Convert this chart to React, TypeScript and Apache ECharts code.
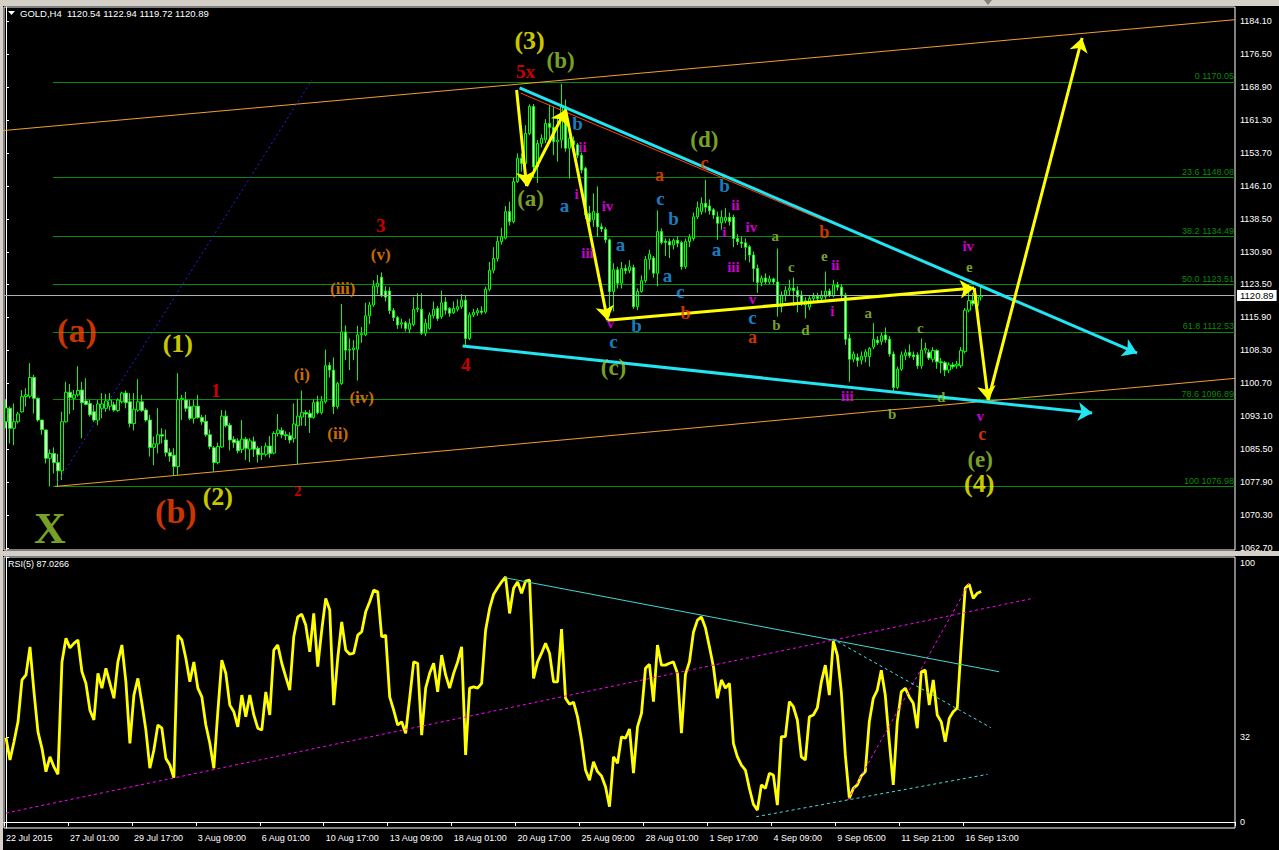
import React, { useEffect, useRef } from "react";
import * as echarts from "echarts";

// ---------- data ----------
const SYMBOL = "GOLD,H4";
const LAST_OHLC = [1120.54, 1122.94, 1119.72, 1120.89];
const RSI_PERIOD = 5;
const RSI_LAST = 87.0266;

const TIME_LABELS = ["22 Jul 2015", "27 Jul 01:00", "29 Jul 17:00", "3 Aug 09:00", "6 Aug 01:00", "10 Aug 17:00", "13 Aug 09:00", "18 Aug 01:00", "20 Aug 17:00", "25 Aug 09:00", "28 Aug 01:00", "1 Sep 17:00", "4 Sep 09:00", "9 Sep 05:00", "11 Sep 21:00", "16 Sep 13:00"];
const BARS_PER_LABEL = 16;

const PRICE_TICKS = [1062.7, 1070.3, 1077.9, 1085.5, 1093.1, 1100.7, 1108.3, 1115.9, 1123.5, 1130.9, 1138.5, 1146.1, 1153.7, 1161.3, 1168.9, 1176.5, 1184.1];
const RSI_TICKS = [0, 32, 100];

const OPEN = [1091.8,1094.9,1090.3,1091.8,1094.1,1097.6,1097.7,1102.0,1097.2,1092.2,
1089.9,1083.4,1084.5,1082.4,1080.5,1091.8,1098.6,1097.2,1098.0,1099.1,
1096.6,1096.0,1094.1,1092.2,1094.9,1094.9,1095.4,1095.7,1094.4,1096.4,
1098.4,1096.4,1091.4,1094.5,1096.4,1094.5,1092.2,1085.9,1086.7,1088.8,
1087.6,1084.7,1084.1,1081.5,1096.9,1096.8,1095.3,1092.6,1095.4,1092.8,
1091.9,1088.8,1085.8,1082.4,1086.0,1093.1,1091.0,1087.7,1087.4,1085.4,
1087.8,1085.5,1087.2,1085.7,1084.3,1084.3,1086.2,1084.6,1089.1,1089.8,
1088.8,1088.6,1088.0,1090.9,1092.9,1093.9,1093.7,1092.8,1096.4,1093.9,
1096.4,1104.8,1103.7,1095.3,1100.6,1112.5,1108.3,1108.4,1108.5,1111.8,
1111.8,1116.2,1118.7,1122.9,1125.1,1121.9,1121.9,1117.4,1115.8,1114.3,
1114.6,1113.1,1114.2,1117.7,1117.7,1112.2,1113.3,1116.2,1117.9,1116.0,
1119.4,1117.9,1116.9,1117.7,1118.3,1119.8,1111.0,1116.4,1116.9,1117.3,
1117.1,1122.3,1126.7,1129.4,1133.3,1134.1,1140.2,1137.9,1147.1,1152.5,
1151.3,1158.2,1164.4,1150.5,1155.9,1156.7,1160.5,1159.6,1156.3,1156.7,
1164.4,1154.8,1156.5,1155.6,1153.2,1150.2,1139.8,1138.3,1139.8,1136.7,
1136.1,1133.7,1121.8,1126.8,1123.7,1127.1,1126.6,1127.3,1118.3,1121.8,
1124.3,1129.2,1129.5,1126.0,1135.6,1133.4,1133.3,1132.5,1133.6,1133.1,
1127.5,1133.3,1134.0,1139.0,1140.2,1142.1,1141.5,1140.6,1139.0,1137.6,
1138.1,1138.9,1138.9,1134.0,1133.2,1133.0,1132.1,1130.2,1127.1,1123.9,
1124.9,1124.0,1124.7,1124.0,1118.3,1121.0,1122.1,1122.6,1122.0,1121.0,
1118.7,1118.2,1120.2,1120.7,1120.2,1120.6,1121.9,1120.8,1123.3,1122.8,
1121.0,1111.0,1106.2,1106.6,1106.0,1106.8,1106.8,1109.0,1110.6,1110.3,
1111.8,1110.8,1107.4,1099.7,1103.9,1107.0,1107.8,1107.2,1107.2,1104.7,
1108.3,1107.8,1106.2,1108.2,1105.6,1105.4,1103.7,1104.9,1104.7,1104.7,
1108.0,1117.5,1119.7,1118.5,1120.54];

const HIGH = [1097.0,1095.3,1096.0,1094.1,1099.1,1099.5,1105.3,1102.6,1097.4,1092.2,
1090.0,1085.4,1085.9,1084.4,1094.1,1101.0,1100.5,1099.1,1104.6,1101.0,
1101.8,1096.8,1095.7,1096.8,1098.4,1098.2,1098.4,1096.4,1097.2,1098.7,
1099.0,1098.4,1098.4,1101.6,1098.0,1094.9,1093.4,1088.4,1094.9,1090.3,
1090.0,1085.7,1085.7,1103.0,1098.0,1098.7,1096.8,1096.8,1098.0,1093.4,
1093.4,1090.0,1086.2,1087.0,1094.5,1094.4,1091.5,1088.5,1088.0,1092.2,
1088.3,1088.0,1088.4,1086.2,1086.2,1087.0,1088.5,1089.6,1093.6,1090.5,
1089.6,1089.4,1096.0,1097.1,1099.0,1094.5,1094.5,1097.0,1097.8,1097.7,
1108.4,1105.5,1106.6,1101.0,1118.9,1114.0,1111.0,1110.6,1113.9,1113.6,
1119.2,1119.4,1124.4,1125.6,1126.2,1123.0,1122.8,1118.0,1116.2,1115.5,
1115.0,1115.5,1120.5,1121.4,1121.4,1115.5,1117.0,1119.5,1118.5,1122.0,
1120.5,1118.2,1119.5,1120.0,1121.2,1121.0,1117.0,1117.8,1118.0,1118.4,
1122.9,1128.6,1132.0,1134.5,1136.5,1141.5,1142.5,1148.0,1153.6,1153.6,
1160.1,1164.9,1165.0,1156.7,1158.0,1161.5,1164.8,1164.4,1162.0,1169.6,
1166.0,1157.5,1157.5,1156.0,1153.8,1150.5,1141.5,1144.4,1146.0,1137.5,
1136.6,1134.0,1128.3,1127.5,1128.6,1128.0,1129.0,1128.0,1122.5,1125.5,
1130.0,1131.4,1130.0,1140.5,1136.3,1134.0,1134.0,1134.0,1134.5,1133.5,
1134.0,1135.0,1140.0,1142.5,1143.5,1147.5,1143.0,1141.0,1140.2,1140.5,
1141.0,1140.0,1139.5,1135.0,1134.5,1134.0,1132.5,1131.0,1128.0,1125.5,
1126.0,1125.5,1125.0,1131.7,1121.8,1123.0,1124.5,1125.0,1123.0,1122.0,
1120.5,1121.0,1121.5,1121.5,1122.0,1126.4,1122.5,1124.5,1124.0,1123.5,
1121.5,1112.0,1108.0,1107.5,1108.0,1108.5,1109.0,1114.5,1111.5,1112.3,
1113.5,1111.5,1108.0,1104.5,1108.0,1108.5,1109.6,1108.0,1107.8,1111.0,
1110.0,1108.5,1109.0,1108.5,1106.5,1105.8,1105.5,1105.5,1105.8,1109.0,
1118.0,1123.5,1121.5,1121.2,1122.94];

const LOW = [1090.3,1086.8,1086.4,1091.4,1093.9,1095.3,1097.2,1093.7,1091.8,1088.8,
1082.2,1076.9,1079.9,1076.9,1078.4,1091.6,1093.6,1094.5,1097.6,1088.0,
1095.6,1093.0,1091.8,1091.0,1092.6,1094.1,1094.4,1094.1,1094.1,1096.0,
1094.9,1090.5,1089.8,1094.1,1094.1,1091.8,1083.8,1081.8,1084.5,1086.8,
1083.8,1082.6,1079.5,1079.5,1092.2,1094.1,1092.2,1091.4,1092.5,1091.1,
1088.4,1085.5,1080.3,1082.0,1085.8,1090.5,1085.2,1085.8,1084.5,1084.6,
1083.0,1082.5,1083.7,1082.4,1083.0,1083.8,1083.5,1084.3,1088.4,1088.0,
1087.6,1086.8,1087.0,1082.1,1090.9,1090.8,1089.2,1092.5,1093.5,1093.5,
1096.0,1102.0,1093.6,1094.8,1100.3,1106.0,1103.7,1106.0,1101.3,1110.0,
1111.5,1114.3,1118.3,1121.2,1120.5,1119.5,1116.6,1115.0,1113.2,1113.3,
1112.6,1112.2,1113.8,1117.0,1111.8,1111.5,1113.0,1115.6,1115.0,1115.5,
1116.5,1116.0,1116.6,1117.2,1117.8,1109.5,1110.6,1115.9,1116.2,1116.5,
1116.7,1121.9,1126.0,1128.7,1132.6,1133.8,1137.0,1137.5,1146.8,1149.4,
1150.9,1157.8,1148.0,1146.8,1155.0,1156.0,1156.3,1153.2,1151.7,1154.8,
1154.0,1147.8,1153.2,1152.5,1149.0,1138.5,1135.6,1136.7,1134.4,1135.5,
1133.0,1116.0,1117.2,1122.5,1122.5,1125.8,1126.0,1117.8,1117.5,1121.5,
1123.8,1126.8,1125.0,1123.0,1132.6,1130.0,1129.5,1131.5,1132.0,1126.8,
1127.0,1132.0,1133.5,1138.5,1139.5,1140.0,1139.5,1138.5,1133.7,1136.0,
1137.5,1137.0,1132.0,1132.5,1131.8,1129.0,1128.5,1124.0,1121.5,1123.0,
1123.5,1123.5,1123.5,1116.0,1117.0,1119.5,1121.0,1118.5,1117.0,1118.5,
1115.6,1117.5,1119.5,1119.5,1119.5,1120.0,1120.5,1120.5,1122.0,1120.0,
1109.5,1101.0,1105.5,1104.5,1105.0,1105.5,1104.5,1108.5,1109.5,1109.5,
1110.0,1106.8,1098.6,1099.3,1103.5,1106.0,1106.5,1106.0,1104.0,1104.0,
1107.5,1106.0,1105.5,1104.0,1103.0,1102.3,1103.0,1104.0,1104.0,1104.2,
1107.5,1117.0,1118.5,1118.0,1119.72];

const CLOSE = [1095.0,1090.3,1091.8,1093.6,1097.6,1098.0,1102.0,1097.2,1092.2,1090.0,
1083.4,1084.5,1082.4,1080.5,1091.8,1098.6,1097.4,1098.0,1099.0,1096.2,
1095.8,1093.4,1092.2,1095.9,1095.9,1096.6,1096.8,1094.5,1096.8,1098.4,
1096.2,1091.4,1094.7,1096.4,1094.4,1092.2,1085.9,1086.7,1088.8,1088.5,
1084.7,1083.9,1081.5,1096.9,1097.2,1094.9,1092.6,1095.4,1092.8,1091.8,
1088.8,1086.1,1082.4,1086.1,1093.1,1090.9,1087.6,1087.0,1085.1,1087.8,
1085.7,1087.4,1085.5,1084.2,1084.5,1086.2,1084.5,1089.1,1089.9,1088.8,
1088.6,1087.6,1091.3,1093.1,1093.9,1093.6,1092.8,1096.2,1093.9,1096.6,
1104.7,1103.7,1095.3,1100.6,1112.5,1108.3,1108.5,1108.8,1111.8,1112.1,
1116.2,1118.7,1123.1,1123.7,1120.8,1120.5,1117.4,1115.8,1114.1,1114.6,
1113.3,1114.4,1117.7,1118.0,1112.2,1114.5,1116.4,1117.7,1115.6,1119.2,
1117.5,1116.8,1117.9,1118.3,1119.8,1111.0,1116.4,1117.0,1117.4,1117.0,
1122.3,1126.7,1129.4,1133.3,1134.4,1140.2,1137.9,1147.1,1152.5,1151.3,
1158.2,1164.4,1150.5,1155.9,1157.1,1160.5,1159.6,1156.3,1156.7,1164.4,
1154.8,1157.1,1155.6,1153.2,1149.8,1139.4,1137.9,1140.2,1136.7,1136.2,
1133.7,1121.8,1126.8,1123.7,1127.1,1126.6,1127.5,1118.3,1121.8,1124.3,
1129.2,1130.4,1126.0,1135.6,1133.1,1133.1,1132.5,1133.6,1132.9,1127.5,
1133.3,1134.3,1139.0,1141.1,1142.1,1141.2,1140.4,1139.4,1137.5,1138.9,
1138.9,1137.9,1134.0,1133.3,1132.9,1132.0,1130.2,1127.1,1123.9,1124.9,
1124.0,1124.7,1124.0,1118.3,1121.0,1122.1,1122.6,1122.0,1120.6,1119.2,
1119.7,1120.2,1120.7,1120.2,1121.0,1121.9,1121.0,1123.3,1122.8,1121.0,
1110.8,1106.2,1107.4,1105.9,1106.9,1107.9,1108.7,1110.8,1110.0,1111.6,
1110.7,1107.4,1099.7,1103.9,1107.2,1107.7,1107.0,1106.8,1104.7,1108.3,
1108.7,1106.5,1108.2,1105.6,1105.4,1103.7,1104.9,1104.5,1105.1,1108.2,
1117.5,1119.7,1119.0,1120.5,1120.89];

const RSI = [31.8,23.4,30.3,37.8,53.6,55.5,66.1,49.1,34.0,27.8,
19.0,24.6,20.8,18.0,60.4,69.3,65.7,67.4,68.7,56.7,
52.3,42.2,38.5,56.1,50.5,58.0,52.3,46.7,60.4,66.8,
52.9,29.7,47.9,54.2,44.8,34.7,20.3,27.2,36.6,35.4,
24.0,21.5,16.7,70.5,68.7,61.8,52.9,60.4,50.5,47.2,
36.6,29.7,20.3,41.6,61.1,56.1,44.1,41.6,35.9,47.9,
39.7,47.9,40.4,35.4,34.7,49.1,40.4,64.9,66.8,59.9,
54.8,49.8,69.9,77.4,78.4,74.3,64.2,78.7,58.6,72.4,
84.4,80.0,44.1,61.8,75.5,64.9,63.3,63.7,70.5,71.8,
79.3,83.1,87.5,86.9,69.9,70.5,47.2,42.2,36.6,37.8,
33.5,46.7,60.4,59.9,32.8,50.5,56.1,59.9,49.1,63.0,
55.5,50.5,56.1,60.4,66.1,25.3,50.5,51.0,50.5,52.3,
72.4,80.6,85.9,88.4,90.6,92.5,78.7,88.2,90.6,86.3,
90.9,91.3,54.2,60.4,63.7,67.4,63.7,52.9,52.9,72.8,
46.7,44.4,45.2,39.7,30.9,19.6,15.8,22.7,19.0,17.4,
13.3,5.8,24.6,22.2,32.2,31.6,35.1,18.4,35.9,41.0,
58.0,59.5,45.4,66.8,59.2,59.2,59.9,60.4,56.1,33.5,
55.7,60.4,71.6,76.2,77.4,73.3,66.1,58.6,46.7,53.6,
50.5,52.3,29.7,24.6,21.5,19.6,12.7,6.7,4.5,14.0,
12.7,18.4,17.7,6.4,32.2,32.2,45.4,43.5,38.5,24.6,
23.4,39.7,40.4,43.1,52.9,59.2,47.9,68.3,63.0,49.1,
25.3,9.0,12.7,14.0,17.4,19.0,37.8,46.7,49.8,57.3,
47.9,30.3,14.0,37.8,49.1,50.5,47.2,44.8,35.4,56.7,
57.3,44.1,53.6,40.4,37.8,30.3,39.1,41.6,43.0,66.8,
88.2,89.7,84.4,86.3,87.0];

// Fibonacci retracement (label, level), anchored from the low bar
const FIB_LEVELS = [["0", 1170.05], ["23.6", 1148.08], ["38.2", 1134.49], ["50.0", 1123.51], ["61.8", 1112.53], ["78.6", 1096.89], ["100", 1076.98]];
const FIB_FROM_BAR = 11.75;

// trend lines: [bar1, value1, bar2, value2]
const ORANGE_CHANNEL = [[-1.5, 1158.8, 307.5, 1184.4], [12.25, 1076.9, 307.5, 1101.8]];
const BLUE_DOTTED = [12.25, 1076.9, 76.5, 1170.5];
const RED_THIN = [128.75, 1167.5, 205, 1138.0];
const CYAN_ARROWS = [[128.5, 1168.7, 283, 1107.6], [114.25, 1109.25, 271.75, 1093.8]];
const YELLOW_PATH = [[127.75, 1168.2], [130.25, 1146.1], [140, 1163.6], [150.5, 1115.2], [242.25, 1122.6], [245.75, 1096.8], [269.25, 1180.2]];

const RSI_MAGENTA = [[0, 3.4, 257.25, 84.5], [210.6, 8.3, 241, 90.1]];
const RSI_CYAN_SOLID = [124.75, 92.2, 248.5, 56.7];
const RSI_CYAN_DASHED = [[206.8, 69.1, 246.4, 35.6], [187.7, 2.0, 245.6, 18.0]];

// wave labels: [text, bar, price, style]
const WAVE_LABELS = [
  ["(3)", 131, 1179.7, "Y"], ["(1)", 43, 1109.9, "Y"], ["(2)", 53, 1074.5, "Y"], ["(4)", 243.5, 1077.5, "Y"],
  ["(a)", 17.75, 1112.9, "OB"], ["(b)", 42.5, 1071.2, "OB"],
  ["X", 11, 1067.3, "X"],
  ["(b)", 138.75, 1174.9, "G"], ["(a)", 131.25, 1143.3, "G"], ["(d)", 174.75, 1156.9, "G"], ["(c)", 152, 1104.4, "G"], ["(e)", 243.75, 1083.2, "G"],
  ["5x", 130, 1172.4, "R"], ["3", 93.75, 1136.9, "R"], ["1", 52.5, 1099.1, "R"], ["2", 73, 1075.9, "r"], ["4", 115, 1105.1, "R"],
  ["(v)", 93.75, 1130.4, "O"], ["(iii)", 84.25, 1122.6, "O"], ["(i)", 74, 1102.6, "O"], ["(iv)", 89, 1097.5, "O"], ["(ii)", 83, 1089.2, "O"],
  ["b", 143, 1160.4, "B"], ["a", 139.75, 1141.5, "B"], ["a", 153.75, 1132.7, "B"], ["c", 163.75, 1143.3, "B"], ["b", 167, 1138.5, "B"],
  ["a", 165.5, 1125.6, "B"], ["c", 168.75, 1121.7, "B"], ["c", 152, 1110.4, "B"], ["b", 157.75, 1113.9, "B"], ["b", 179.75, 1146.1, "B"],
  ["a", 177.75, 1131.4, "B"], ["c", 186.75, 1115.9, "B"],
  ["a", 163.5, 1148.6, "o"], ["c", 174.75, 1151.4, "o"], ["b", 170, 1116.8, "o"], ["a", 186.75, 1111.3, "o"], ["b", 204.75, 1135.5, "o"], ["c", 244.25, 1089.0, "o"],
  ["ii", 144.25, 1155.1, "M"], ["i", 142.75, 1144.3, "M"], ["iv", 150.5, 1141.5, "M"], ["iii", 145.5, 1130.7, "M"], ["v", 151.25, 1114.5, "M"],
  ["i", 179.75, 1135.5, "M"], ["ii", 182.5, 1141.7, "M"], ["iv", 186.5, 1136.7, "M"], ["iii", 182, 1127.4, "M"], ["v", 186.75, 1120.1, "M"],
  ["i", 206.75, 1117.3, "M"], ["ii", 207.5, 1127.9, "M"], ["iii", 210.5, 1097.7, "M"], ["iv", 240.75, 1132.3, "M"], ["v", 243.75, 1093.1, "M"],
  ["a", 192.5, 1134.6, "g"], ["c", 196.5, 1127.4, "g"], ["e", 204.75, 1130.0, "g"], ["b", 192.75, 1114.1, "g"], ["d", 200, 1112.9, "g"],
  ["a", 215.75, 1116.8, "g"], ["c", 228.75, 1113.4, "g"], ["b", 221.75, 1093.6, "g"], ["d", 234, 1097.5, "g"], ["e", 241, 1127.4, "g"],
];

// ---------- layout / style ----------
const SLOTS = 308;
const PRICE_MIN = 1062.27;
const PRICE_MAX = 1187.32;
const RSI_MIN = -2.26;
const RSI_MAX = 100;
const AXIS_FONT = "'Liberation Sans', Arial, sans-serif";
const WAVE_FONT = "'Liberation Serif', 'Times New Roman', serif";

const LABEL_STYLES: Record<string, { color: string; size: number }> = {
  Y: { color: "#ffff00", size: 26 },
  OB: { color: "#ff4500", size: 34 },
  X: { color: "#9acd32", size: 44 },
  G: { color: "#9acd32", size: 23 },
  g: { color: "#9acd32", size: 15 },
  R: { color: "#ff0000", size: 19 },
  r: { color: "#ff0000", size: 15 },
  O: { color: "#ff8c00", size: 17 },
  B: { color: "#1ea0f0", size: 19 },
  o: { color: "#ff4500", size: 18 },
  M: { color: "#ff00ff", size: 15 },
};

const seg = (s: number[]) => ({ coords: [[s[0], s[1]], [s[2], s[3]]] });

export default function App() {
  const ref = useRef<HTMLDivElement>(null);

  useEffect(() => {
    if (!ref.current) return;
    const chart = echarts.init(ref.current, null, { renderer: "svg" });
    const cats = Array.from({ length: SLOTS }, (_, i) => String(i));
    const showTick = (i: number) => i % BARS_PER_LABEL === 0 && i / BARS_PER_LABEL < TIME_LABELS.length;

    const yellowSegs = YELLOW_PATH.slice(1).map((p, i) => ({ coords: [YELLOW_PATH[i], p] }));

    const option: any = {
      animation: false,
      backgroundColor: "#000",
      grid: [
        { left: 4, right: 44, top: 7, height: 543, show: true, borderColor: "#ffffff", borderWidth: 1, backgroundColor: "#000" },
        { left: 4, right: 44, top: 557, height: 271, show: true, borderColor: "#ffffff", borderWidth: 1, backgroundColor: "#000" },
      ],
      xAxis: [
        { type: "category", gridIndex: 0, data: cats, boundaryGap: true, show: false },
        { type: "value", gridIndex: 0, min: -0.5, max: SLOTS - 0.5, show: false },
        {
          type: "category", gridIndex: 1, data: cats, boundaryGap: true,
          axisLine: { show: true, lineStyle: { color: "#ffffff", width: 1 } },
          axisTick: { show: true, interval: (i: number) => showTick(i), length: 4, lineStyle: { color: "#ffffff" } },
          axisLabel: {
            show: true, interval: (i: number) => showTick(i), align: "left", margin: 5,
            formatter: (_v: string, i: number) => TIME_LABELS[i / BARS_PER_LABEL] || "",
            color: "#ffffff", fontSize: 9, fontFamily: AXIS_FONT,
          },
          splitLine: { show: false },
        },
        { type: "value", gridIndex: 1, min: -0.5, max: SLOTS - 0.5, show: false },
      ],
      yAxis: [
        {
          type: "value", gridIndex: 0, position: "right", min: PRICE_MIN, max: PRICE_MAX, scale: true,
          axisLine: { show: true, lineStyle: { color: "#ffffff" } },
          axisTick: { show: true, customValues: PRICE_TICKS, length: 3, lineStyle: { color: "#ffffff" } },
          axisLabel: { show: true, customValues: PRICE_TICKS, formatter: (v: number) => v.toFixed(2), color: "#ffffff", fontSize: 9, fontFamily: AXIS_FONT, margin: 5 },
          splitLine: { show: false },
        },
        {
          type: "value", gridIndex: 1, position: "right", min: RSI_MIN, max: RSI_MAX,
          axisLine: { show: true, lineStyle: { color: "#ffffff" } },
          axisTick: { show: true, customValues: RSI_TICKS, length: 3, lineStyle: { color: "#ffffff" } },
          axisLabel: {
            show: true, customValues: RSI_TICKS, color: "#ffffff", fontSize: 9, fontFamily: AXIS_FONT, margin: 5,
            formatter: (v: number) => (v === 100 ? "{t|100}" : String(v)),
            rich: { t: { padding: [12, 0, 0, 0], color: "#ffffff", fontSize: 9, fontFamily: AXIS_FONT } },
          },
          splitLine: { show: false },
        },
      ],
      series: [
        {
          type: "candlestick", xAxisIndex: 0, yAxisIndex: 0, z: 3,
          data: OPEN.map((o, i) => [o, CLOSE[i], LOW[i], HIGH[i]]),
          barWidth: 3,
          itemStyle: { color: "#000000", color0: "#ffffff", borderColor: "#00ff00", borderColor0: "#00ff00", borderWidth: 1 },
          markLine: {
            silent: true, symbol: "none",
            data: [{ yAxis: LAST_OHLC[3] }],
            lineStyle: { color: "#a8b0b8", width: 1, type: "solid" },
            label: {
              show: true, position: "end", distance: 2, formatter: LAST_OHLC[3].toFixed(2),
              backgroundColor: "#ffffff", color: "#000000", padding: [1, 3, 0, 3], fontSize: 9.5, fontFamily: AXIS_FONT,
            },
          },
        },
        {
          type: "lines", coordinateSystem: "cartesian2d", xAxisIndex: 1, yAxisIndex: 0, z: 2, silent: true,
          lineStyle: { color: "#0a8a0a", width: 1, opacity: 1 },
          label: { show: true, position: "insideEndTop", formatter: (p: any) => p.name, color: "#0a8a0a", fontSize: 9, fontFamily: AXIS_FONT, distance: 1 },
          data: FIB_LEVELS.map(([t, v]) => ({ name: `${t} ${(v as number).toFixed(2)}`, coords: [[FIB_FROM_BAR, v], [SLOTS - 0.5, v]] })),
        },
        {
          type: "lines", coordinateSystem: "cartesian2d", xAxisIndex: 1, yAxisIndex: 0, z: 4, silent: true,
          lineStyle: { color: "#f0a030", width: 1, opacity: 1 },
          data: ORANGE_CHANNEL.map(seg),
        },
        {
          type: "lines", coordinateSystem: "cartesian2d", xAxisIndex: 1, yAxisIndex: 0, z: 4, silent: true,
          lineStyle: { color: "#2020ff", width: 1, type: [2, 3], opacity: 1 },
          data: [seg(BLUE_DOTTED)],
        },
        {
          type: "lines", coordinateSystem: "cartesian2d", xAxisIndex: 1, yAxisIndex: 0, z: 4, silent: true,
          lineStyle: { color: "#ff4500", width: 1, opacity: 1 },
          data: [seg(RED_THIN)],
        },
        {
          type: "lines", coordinateSystem: "cartesian2d", xAxisIndex: 1, yAxisIndex: 0, z: 5, silent: true,
          symbol: ["none", "arrow"], symbolSize: 14,
          lineStyle: { color: "#22e4f2", width: 3, opacity: 1 },
          data: CYAN_ARROWS.map(seg),
        },
        {
          type: "lines", coordinateSystem: "cartesian2d", xAxisIndex: 1, yAxisIndex: 0, z: 6, silent: true,
          symbol: ["none", "arrow"], symbolSize: 14,
          lineStyle: { color: "#ffff00", width: 3, opacity: 1 },
          data: yellowSegs,
        },
        {
          type: "scatter", xAxisIndex: 1, yAxisIndex: 0, z: 8, silent: true,
          symbol: "circle", symbolSize: 1, itemStyle: { color: "rgba(0,0,0,0)" },
          label: { show: true, position: "inside", formatter: (p: any) => p.name },
          data: WAVE_LABELS.map(([t, b, p, s]) => {
            const st = LABEL_STYLES[s as string];
            return {
              name: t, value: [b, p],
              label: { color: st.color, fontSize: st.size, fontWeight: "bold", fontFamily: WAVE_FONT, lineHeight: Math.round(st.size * 0.9) },
            };
          }),
        },
        {
          type: "line", xAxisIndex: 2, yAxisIndex: 1, z: 3, data: RSI, showSymbol: false, symbol: "none",
          lineStyle: { color: "#ffff00", width: 2.8 },
        },
        {
          type: "lines", coordinateSystem: "cartesian2d", xAxisIndex: 3, yAxisIndex: 1, z: 4, silent: true,
          lineStyle: { color: "#ff00ff", width: 1, type: [3, 3], opacity: 1 },
          data: RSI_MAGENTA.map(seg),
        },
        {
          type: "lines", coordinateSystem: "cartesian2d", xAxisIndex: 3, yAxisIndex: 1, z: 4, silent: true,
          lineStyle: { color: "#40d8d0", width: 1, opacity: 1 },
          data: [seg(RSI_CYAN_SOLID)],
        },
        {
          type: "lines", coordinateSystem: "cartesian2d", xAxisIndex: 3, yAxisIndex: 1, z: 4, silent: true,
          lineStyle: { color: "#40e0e0", width: 1, type: [3, 3], opacity: 1 },
          data: RSI_CYAN_DASHED.map(seg),
        },
      ],
      graphic: [
        { type: "rect", left: 0, top: 0, shape: { width: 1279, height: 6 }, style: { fill: "#d4d0c8" }, silent: true },
        { type: "rect", left: 0, top: 0, shape: { width: 3, height: 850 }, style: { fill: "#d4d0c8" }, silent: true },
        { type: "rect", left: 0, top: 551, shape: { width: 1279, height: 5 }, style: { fill: "#d4d0c8" }, silent: true },
        { type: "polygon", shape: { points: [[984, 0], [992, 0], [988, 5]] }, style: { fill: "#808080" }, silent: true },
        { type: "polygon", shape: { points: [[8, 11], [15, 11], [11.5, 15]] }, style: { fill: "#ffffff" }, silent: true },
        {
          type: "text", left: 20, top: 8, silent: true,
          style: { text: `${SYMBOL}  ${LAST_OHLC.map((v) => v.toFixed(2)).join(" ")}`, fill: "#ffffff", font: `9.5px ${AXIS_FONT}` },
        },
        {
          type: "text", left: 8, top: 559, silent: true,
          style: { text: `RSI(${RSI_PERIOD}) ${RSI_LAST.toFixed(4)}`, fill: "#ffffff", font: `9px ${AXIS_FONT}` },
        },
      ],
    };
    chart.setOption(option);
    return () => chart.dispose();
  }, []);

  return <div ref={ref} style={{ position: "absolute", left: 0, top: 0, width: 1279, height: 850, background: "#000" }} />;
}
